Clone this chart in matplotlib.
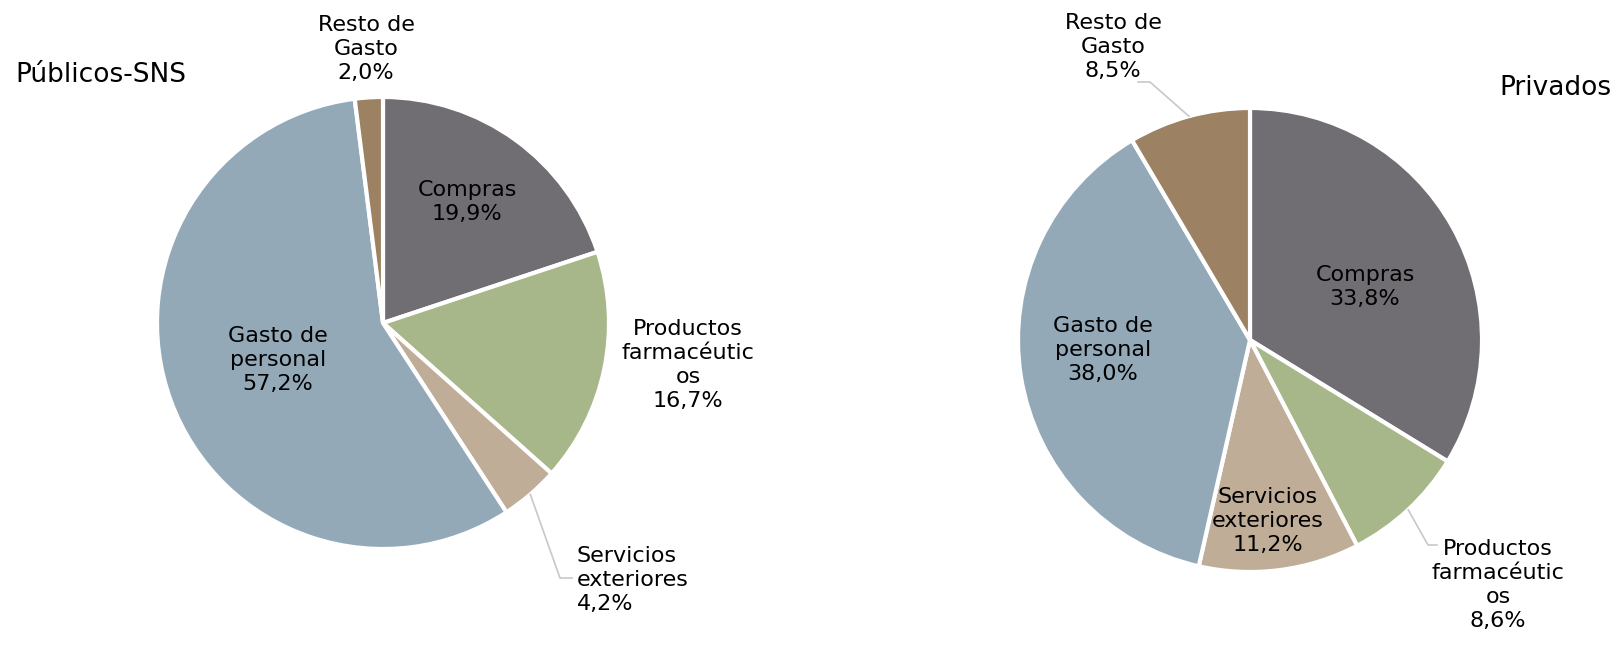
import numpy as np
import matplotlib
matplotlib.use("Agg")
import matplotlib.pyplot as plt

# datos
categorias = ["Compras", "Productos\nfarmacéutic\nos", "Servicios\nexteriores",
              "Gasto de\npersonal", "Resto de\nGasto"]
publicos = [19.9, 16.7, 4.2, 57.2, 2.0]
privados = [33.8, 8.6, 11.2, 38.0, 8.5]
colores = ["#706E73", "#A7B78A", "#BFAD97", "#93A9B8", "#9C8162"]

W, H = 1624, 662
plt.rcParams["font.family"] = ["DejaVu Sans"]

fig = plt.figure(figsize=(W / 100, H / 100), dpi=100)
ax = fig.add_axes([0, 0, 1, 1])


def etiqueta(nombre, v):
    return f"{nombre}\n{v:.1f}%".replace(".", ",")


def tarta(valores, centro, radio, pos_textos, guias):
    wedges, _ = ax.pie(valores, colors=colores, startangle=270, counterclock=True,
                       center=centro, radius=radio, normalize=True, frame=True,
                       wedgeprops=dict(edgecolor="white", linewidth=3))
    for i, w in enumerate(wedges):
        x, y, ha = pos_textos[i]
        ax.text(x, y, etiqueta(categorias[i], valores[i]), ha=ha, va="center",
                multialignment="center" if ha == "center" else "left",
                fontsize=16, linespacing=1.25, color="black")
        if i in guias:
            m = np.deg2rad((w.theta1 + w.theta2) / 2)
            px = centro[0] + radio * np.cos(m)
            py = centro[1] + radio * np.sin(m)
            xs = [px] + [p[0] for p in guias[i]]
            ys = [py] + [p[1] for p in guias[i]]
            ax.plot(xs, ys, color="#C8C8C8", linewidth=1.2)


tarta(publicos, (383, 323), 226,
      [(467, 202, "center"), (688, 365, "center"), (577, 580, "left"),
       (278, 360, "center"), (366, 49, "center")],
      {2: [(560, 578), (572, 578)]})

tarta(privados, (1250, 340), 232,
      [(1365, 287, "center"), (1498, 585, "center"), (1268, 521, "center"),
       (1103, 350, "center"), (1113, 47, "center")],
      {1: [(1428, 545), (1437, 545)], 4: [(1150, 82), (1138, 82)]})

ax.set_xlim(0, W)
ax.set_ylim(H, 0)
ax.set_aspect("equal")
ax.axis("off")

ax.text(15, 75, "Públicos-SNS", ha="left", va="center", fontsize=19)
ax.text(1612, 88, "Privados", ha="right", va="center", fontsize=19)

fig.savefig("out.png", dpi=100)
